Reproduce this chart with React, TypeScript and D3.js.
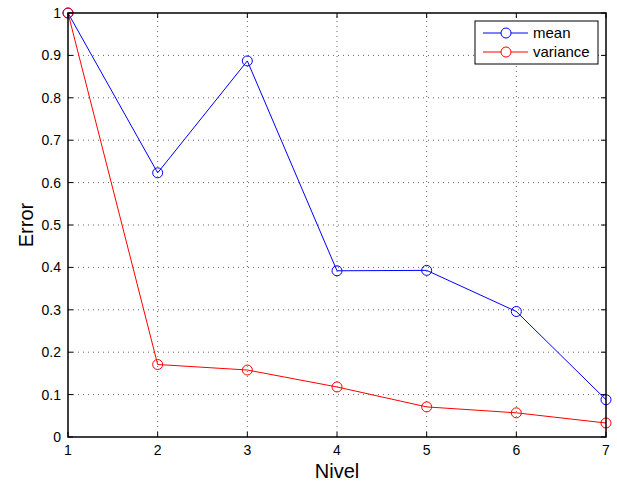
import React from 'react';
import * as d3 from 'd3';

const levels = [1, 2, 3, 4, 5, 6, 7];
const meanErr = [1, 0.623, 0.887, 0.392, 0.393, 0.296, 0.088];
const varianceErr = [1, 0.171, 0.158, 0.118, 0.071, 0.057, 0.033];
const xTicks = [1, 2, 3, 4, 5, 6, 7];
const yTicks = [0, 0.1, 0.2, 0.3, 0.4, 0.5, 0.6, 0.7, 0.8, 0.9, 1];

const series = [
  { name: 'mean', color: '#0000ff', values: meanErr },
  { name: 'variance', color: '#ff0000', values: varianceErr },
];

const W = 617;
const H = 487;
const margin = { top: 13, right: 11, bottom: 50, left: 68 };

export default function App() {
  const x = d3.scaleLinear().domain([1, 7]).range([margin.left, W - margin.right]);
  const y = d3.scaleLinear().domain([0, 1]).range([H - margin.bottom, margin.top]);
  const line = d3
    .line<number>()
    .x((_, i) => x(levels[i]))
    .y((d) => y(d));

  const x0 = margin.left;
  const x1 = W - margin.right;
  const y0 = H - margin.bottom;
  const y1 = margin.top;
  const font = 'Liberation Sans, Arial, Helvetica, sans-serif';

  return (
    <svg
      width={W}
      height={H}
      style={{ position: 'absolute', left: 0, top: 0, background: '#fff' }}
      fontFamily={font}
    >
      {/* grid */}
      {xTicks.slice(1, -1).map((t) => (
        <line key={'gx' + t} x1={x(t)} x2={x(t)} y1={y0} y2={y1} stroke="#666" strokeWidth={1} strokeDasharray="1,4" />
      ))}
      {yTicks.slice(1, -1).map((t) => (
        <line key={'gy' + t} x1={x0} x2={x1} y1={y(t)} y2={y(t)} stroke="#666" strokeWidth={1} strokeDasharray="1,4" />
      ))}

      {/* ticks inside */}
      {xTicks.map((t) => (
        <g key={'tx' + t}>
          <line x1={x(t)} x2={x(t)} y1={y0} y2={y0 - 5} stroke="#000" />
          <line x1={x(t)} x2={x(t)} y1={y1} y2={y1 + 5} stroke="#000" />
          <text x={x(t)} y={y0 + 18} textAnchor="middle" fontSize={14} fill="#000">
            {t}
          </text>
        </g>
      ))}
      {yTicks.map((t) => (
        <g key={'ty' + t}>
          <line x1={x0} x2={x0 + 5} y1={y(t)} y2={y(t)} stroke="#000" />
          <line x1={x1} x2={x1 - 5} y1={y(t)} y2={y(t)} stroke="#000" />
          <text x={x0 - 7} y={y(t) + 5} textAnchor="end" fontSize={14} fill="#000">
            {t}
          </text>
        </g>
      ))}

      {/* data */}
      {series.map((s) => (
        <g key={s.name}>
          <path d={line(s.values) || ''} fill="none" stroke={s.color} strokeWidth={1} />
          {s.values.map((v, i) => (
            <circle key={i} cx={x(levels[i])} cy={y(v)} r={5} fill="none" stroke={s.color} strokeWidth={1} />
          ))}
        </g>
      ))}

      {/* box */}
      <rect x={x0} y={y1} width={x1 - x0} height={y0 - y1} fill="none" stroke="#000" strokeWidth={1.5} />

      {/* legend */}
      <g transform="translate(475,21)">
        <rect x={0} y={0} width={123} height={43} fill="#fff" stroke="#000" strokeWidth={1} />
        {series.map((s, i) => (
          <g key={s.name} transform={`translate(0,${12 + i * 19})`}>
            <line x1={8} x2={53} y1={0} y2={0} stroke={s.color} />
            <circle cx={31} cy={0} r={5} fill="#fff" stroke={s.color} />
            <text x={58} y={5} fontSize={15} fill="#000">
              {s.name}
            </text>
          </g>
        ))}
      </g>

      {/* labels */}
      <text x={(x0 + x1) / 2} y={478} textAnchor="middle" fontSize={20} fill="#000">
        Nivel
      </text>
      <text
        transform={`translate(33,${(y0 + y1) / 2}) rotate(-90)`}
        textAnchor="middle"
        fontSize={20}
        fill="#000"
      >
        Error
      </text>
    </svg>
  );
}
